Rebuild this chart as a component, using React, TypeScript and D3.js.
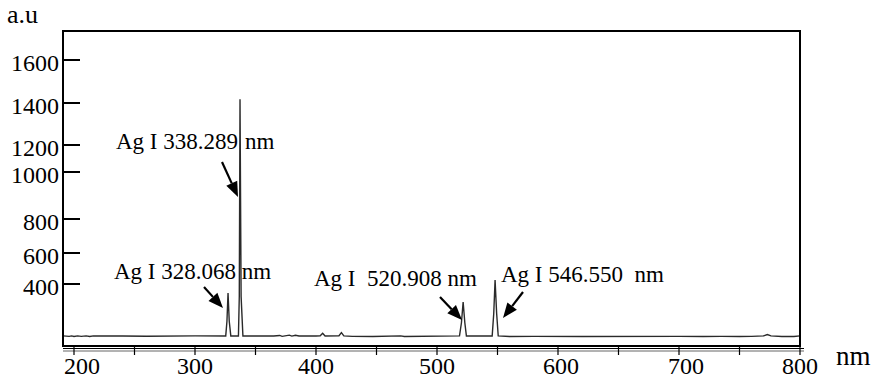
import React, { useEffect, useRef } from "react";
import * as d3 from "d3";

// spectrum (wavelength in nm, intensity in a.u)
const wavelengths = [
  191, 196, 198, 200, 203, 206, 210, 213, 216, 240, 260, 300, 325.4, 326.4, 327.3, 328.3, 329.6,
  335.9, 336.6, 337.2, 338.1, 339.6, 365, 370, 372, 378, 380, 383, 386, 400, 403.5, 405.5, 407.5,
  419, 421, 423, 430, 447, 470, 473, 518.6, 520.2, 521.6, 523, 524.3, 545.6, 546.9, 548, 549.3,
  550.6, 560, 580, 620, 700, 720, 735, 750, 760, 770, 773, 776, 785, 795, 800,
];
const intensities = [
  65, 62, 65, 61, 65, 62, 65, 61, 65, 65, 63, 65, 65, 160, 342, 160, 65,
  65, 320, 1418, 320, 65, 65, 68, 62, 70, 64, 69, 65, 65, 66, 82, 65,
  66, 86, 65, 62, 61, 65, 61, 65, 150, 284, 150, 65, 65, 210, 426, 210,
  65, 61, 62, 61, 62, 61, 62, 61, 62, 65, 74, 65, 61, 61, 65,
];

const yTicks = [400, 600, 800, 1000, 1200, 1400, 1600];
const xTicks = [200, 300, 400, 500, 600, 700, 800];
const xMinorTicks = [250, 350, 450, 550, 650, 750];

const annotations = [
  { parts: [{ text: "Ag I 338.289", x: 116 }, { text: "nm", x: 245 }], y: 149, from: [222, 162], to: [238, 197] },
  { parts: [{ text: "Ag I 328.068 nm", x: 114 }], y: 279, from: [204, 287], to: [223, 308] },
  { parts: [{ text: "Ag I  520.908 nm", x: 314 }], y: 286, from: [440, 297], to: [462, 320] },
  { parts: [{ text: "Ag I 546.550  nm", x: 501 }], y: 282, from: [523, 292], to: [503, 318] },
];

const W = 877;
const H = 382;
const font = "'Liberation Serif', 'Times New Roman', serif";

export default function App() {
  const ref = useRef<SVGSVGElement>(null);

  useEffect(() => {
    const svg = d3.select(ref.current);
    svg.selectAll("*").remove();

    const left = 63;
    const top = 31;
    const right = 800;
    const bottom = 346;

    const x = d3.scaleLinear().domain([200, 800]).range([74, 800]);
    // the printed axis is not evenly spaced, so the scale follows its tick marks
    const y = d3
      .scaleLinear()
      .domain([0, 400, 600, 800, 1000, 1200, 1400, 1600, 1800])
      .range([346, 284, 253, 219, 172, 145, 103, 60, 17]);

    svg.append("rect").attr("width", W).attr("height", H).attr("fill", "#fff");

    // spectrum
    const points = wavelengths.map((w, i) => [w, intensities[i]] as [number, number]);
    const line = d3
      .line<[number, number]>()
      .x((d) => x(d[0]))
      .y((d) => y(d[1]));
    svg
      .append("path")
      .attr("d", line(points))
      .attr("fill", "none")
      .attr("stroke", "#2a2a2a")
      .attr("stroke-width", 1.4);

    // frame
    svg
      .append("rect")
      .attr("x", left)
      .attr("y", top)
      .attr("width", right - left)
      .attr("height", bottom - top)
      .attr("fill", "none")
      .attr("stroke", "#000")
      .attr("stroke-width", 2);

    // y ticks
    const yg = svg.append("g");
    yTicks.forEach((t) => {
      yg.append("line")
        .attr("x1", left)
        .attr("x2", left + 17)
        .attr("y1", y(t))
        .attr("y2", y(t))
        .attr("stroke", "#000")
        .attr("stroke-width", 2);
      yg.append("text")
        .attr("x", left - 4)
        .attr("y", y(t))
        .attr("dy", "0.45em")
        .attr("text-anchor", "end")
        .attr("font-family", font)
        .attr("font-size", 24)
        .text(t);
    });

    // x axis, drawn as a double line under the frame
    const xg = svg.append("g");
    xg.append("line")
      .attr("x1", left)
      .attr("x2", 804)
      .attr("y1", 348.5)
      .attr("y2", 348.5)
      .attr("stroke", "#000")
      .attr("stroke-width", 1.2);
    xg.append("line")
      .attr("x1", left)
      .attr("x2", 804)
      .attr("y1", 351)
      .attr("y2", 351)
      .attr("stroke", "#666")
      .attr("stroke-width", 1);
    [...xTicks, ...xMinorTicks].forEach((t) => {
      xg.append("line")
        .attr("x1", x(t))
        .attr("x2", x(t))
        .attr("y1", 347)
        .attr("y2", 355)
        .attr("stroke", "#000")
        .attr("stroke-width", 1.2);
    });
    xTicks.forEach((t) => {
      xg.append("text")
        .attr("x", x(t) + (t === 200 ? 8 : t === 700 ? 7 : t === 600 ? 3 : 0))
        .attr("y", 374)
        .attr("text-anchor", "middle")
        .attr("font-family", font)
        .attr("font-size", 24)
        .text(t);
    });

    svg
      .append("text")
      .attr("x", 836)
      .attr("y", 365)
      .attr("font-family", font)
      .attr("font-size", 27)
      .text("nm");
    svg
      .append("text")
      .attr("x", 7)
      .attr("y", 23)
      .attr("font-family", font)
      .attr("font-size", 26)
      .text("a.u");

    // labels and arrows
    annotations.forEach((a) => {
      a.parts.forEach((p) => {
        svg
          .append("text")
          .attr("x", p.x)
          .attr("y", a.y)
          .attr("font-family", font)
          .attr("font-size", 23)
          .style("white-space", "pre")
          .text(p.text);
      });
      const [x0, y0] = a.from;
      const [x1, y1] = a.to;
      const ang = Math.atan2(y1 - y0, x1 - x0);
      const len = 15;
      const half = 6;
      const bx = x1 - len * Math.cos(ang);
      const by = y1 - len * Math.sin(ang);
      svg
        .append("line")
        .attr("x1", x0)
        .attr("y1", y0)
        .attr("x2", bx)
        .attr("y2", by)
        .attr("stroke", "#000")
        .attr("stroke-width", 2.2);
      const head = [
        [x1, y1],
        [bx + half * Math.sin(ang), by - half * Math.cos(ang)],
        [bx - half * Math.sin(ang), by + half * Math.cos(ang)],
      ];
      svg.append("polygon").attr("points", head.map((p) => p.join(",")).join(" ")).attr("fill", "#000");
    });
  }, []);

  return (
    <svg
      ref={ref}
      width={W}
      height={H}
      style={{ position: "absolute", left: 0, top: 0, display: "block" }}
    />
  );
}
